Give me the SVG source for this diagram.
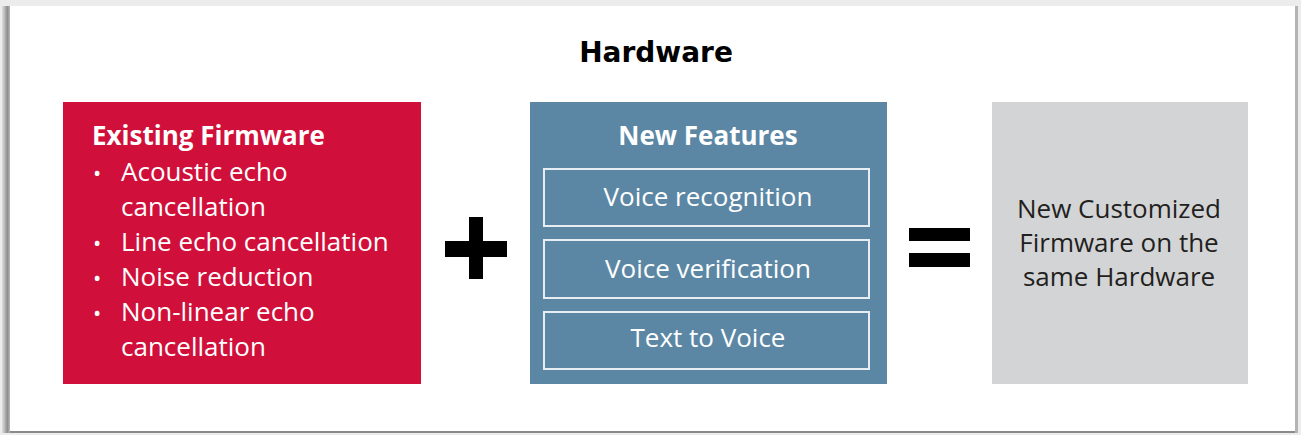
<svg xmlns="http://www.w3.org/2000/svg" width="1301" height="435" viewBox="0 0 1301 435">
<defs>
<style>
.t{font-family:"Open Sans","Noto Sans","DejaVu Sans",sans-serif;font-size:26px;fill:#ffffff}
.b{font-weight:bold}
.c{text-anchor:middle}
.dk{fill:#231f20}
.inner{fill:none;stroke:#e6eef3;stroke-width:2}
.op{fill:#000000}
</style>
<linearGradient id="ls" x1="0" y1="0" x2="1" y2="0">
<stop offset="0" stop-color="#e0e0e0"/>
<stop offset="0.6" stop-color="#8e8e8e"/>
<stop offset="1" stop-color="#c8c8c8"/>
</linearGradient>
</defs>
<rect x="0" y="0" width="1301" height="435" fill="#ececec"/>
<rect x="2" y="6" width="9" height="427" fill="url(#ls)"/>
<rect x="10" y="6" width="1286" height="426" fill="#ffffff"/>
<rect x="10" y="431" width="1287" height="2" fill="#8a8a8a"/>
<rect x="1295" y="6" width="3" height="427" fill="#b4b4b4"/>
<text id="title" x="656" y="62" font-family="'DejaVu Sans',Verdana,sans-serif" font-size="28" font-weight="bold" text-anchor="middle" fill="#000">Hardware</text>
<g id="existing">
<rect x="63" y="102" width="358" height="282" fill="#d0103a"/>
<text class="t b" x="92" y="145" font-size="24">Existing Firmware</text>
<g class="t">
<text x="93" y="181" font-size="22">•</text><text x="121" y="181">Acoustic echo</text>
<text x="121" y="216">cancellation</text>
<text x="93" y="251" font-size="22">•</text><text x="121" y="251">Line echo cancellation</text>
<text x="93" y="286" font-size="22">•</text><text x="121" y="286">Noise reduction</text>
<text x="93" y="321" font-size="22">•</text><text x="121" y="321">Non-linear echo</text>
<text x="121" y="356">cancellation</text>
</g>
</g>
<g id="connectors">
<g id="plus" class="op">
<rect x="445" y="241" width="62" height="16"/>
<rect x="469" y="217" width="14" height="62"/>
</g>
<g id="equals" class="op">
<rect x="909" y="228" width="61" height="13"/>
<rect x="909" y="253" width="61" height="14"/>
</g>
</g>
<g id="features">
<rect x="530" y="102" width="357" height="282" fill="#5b87a5"/>
<text class="t b c" x="708" y="145" font-size="23.5">New Features</text>
<rect class="inner" x="544" y="169" width="325" height="57"/>
<rect class="inner" x="544" y="240" width="325" height="58"/>
<rect class="inner" x="544" y="312" width="325" height="57"/>
<text class="t c" x="708" y="206">Voice recognition</text>
<text class="t c" x="708" y="278">Voice verification</text>
<text class="t c" x="708" y="347">Text to Voice</text>
</g>
<g id="result">
<rect x="992" y="102" width="256" height="282" fill="#d3d4d6"/>
<g class="t c dk">
<text x="1119" y="218">New Customized</text>
<text x="1119" y="252">Firmware on the</text>
<text x="1119" y="286">same Hardware</text>
</g>
</g>
</svg>
